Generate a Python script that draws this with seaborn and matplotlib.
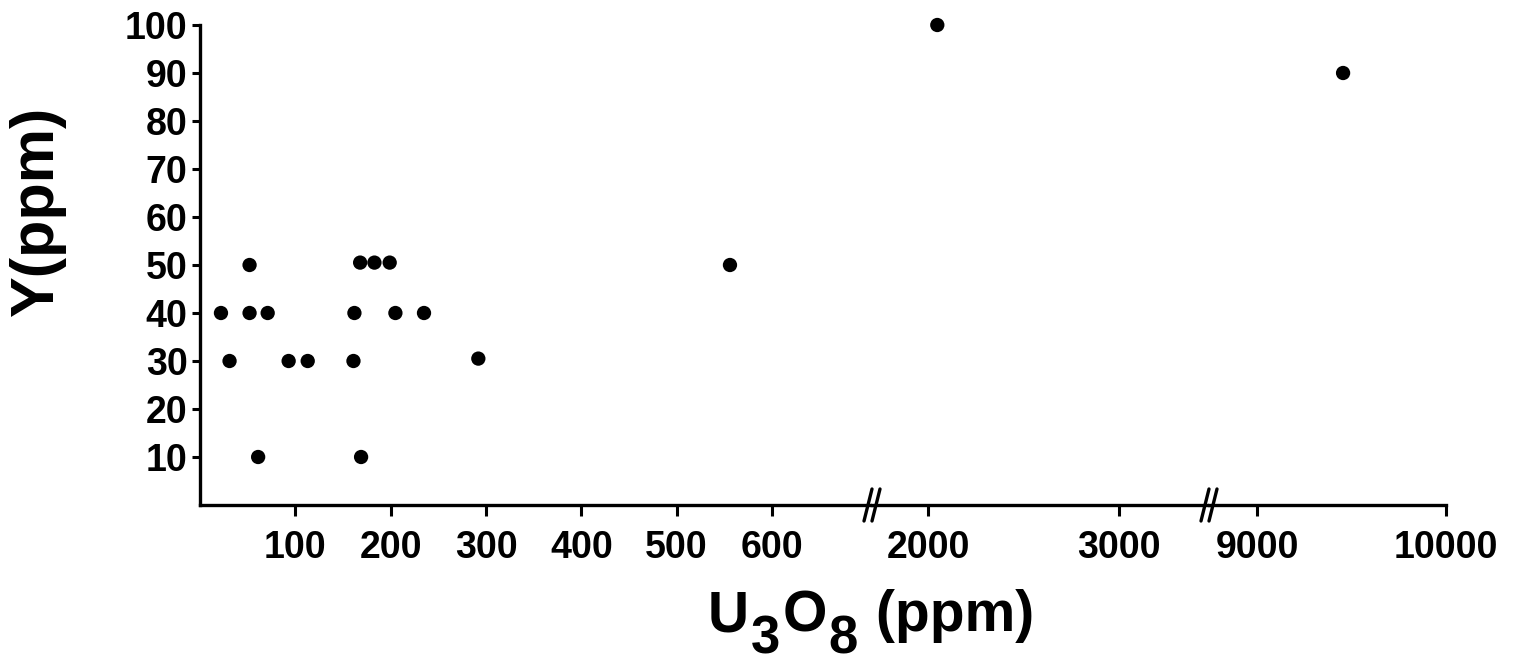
import numpy as np
import pandas as pd
import matplotlib
matplotlib.use("Agg")
import matplotlib.pyplot as plt
from matplotlib.lines import Line2D
import seaborn as sns

# values
u3o8 = [22, 31, 52, 52, 61, 71, 93, 113, 161, 162, 168, 169, 183, 199, 205, 235, 292, 556, 2047, 9455]
y_ppm = [40, 30, 50, 40, 10, 40, 30, 30, 30, 40, 50.5, 10, 50.5, 50.5, 40, 40, 30.5, 50, 100, 90]

y_ticks = [10, 20, 30, 40, 50, 60, 70, 80, 90, 100]
seg_ticks = [[100, 200, 300, 400, 500, 600], [2000, 3000], [9000, 10000]]
seg_limits = [(0, 705), (1705, 3470), (8745, 10000)]

df = pd.DataFrame({"u3o8": u3o8, "y": y_ppm})

sns.set_style("ticks")
plt.rcParams["font.family"] = ["Liberation Sans", "DejaVu Sans"]
for key in ["text.color", "axes.labelcolor", "xtick.color", "ytick.color", "axes.edgecolor"]:
    plt.rcParams[key] = "black"

W, H = 1533, 667
fig = plt.figure(figsize=(W / 100, H / 100), dpi=100)
gs = fig.add_gridspec(1, 3, width_ratios=[672, 337, 237], wspace=0,
                      left=200 / W, right=1446 / W,
                      bottom=(H - 505) / H, top=(H - 25) / H)

axes = []
for i in range(3):
    ax = fig.add_subplot(gs[0, i])
    lo, hi = seg_limits[i]
    part = df[(df.u3o8 >= lo) & (df.u3o8 <= hi)]
    sns.scatterplot(data=part, x="u3o8", y="y", ax=ax, color="black",
                    s=106, edgecolor="none", legend=False, clip_on=False)
    ax.set_xlim(lo, hi)
    ax.set_ylim(0, 100)
    ax.set_xticks(seg_ticks[i])
    ax.set_xticklabels([str(t) for t in seg_ticks[i]], fontsize=27, fontweight="bold")
    ax.set_xlabel("")
    ax.set_ylabel("")
    for side in ["top", "right"]:
        ax.spines[side].set_visible(False)
    ax.spines["bottom"].set_linewidth(2.4)
    ax.tick_params(axis="x", length=8, width=2.2, pad=10)
    if i == 0:
        ax.set_yticks(y_ticks)
        ax.set_yticklabels([str(t) for t in y_ticks], fontsize=27, fontweight="bold")
        ax.spines["left"].set_linewidth(2.4)
        ax.tick_params(axis="y", length=6, width=2.2, pad=3)
    else:
        ax.spines["left"].set_visible(False)
        ax.tick_params(axis="y", left=False, labelleft=False)
    axes.append(ax)

# y label
fig.text(66 / W, (H - 211) / H, "Y(ppm)", rotation=90, fontsize=44,
         fontweight="bold", ha="right", va="center")

# x label with lowered subscripts, laid out piece by piece
pieces = [("U", 0, 41), ("3", 22, 38), ("O", 0, 41), ("8", 22, 38), (" (ppm)", 0, 41)]
fig.canvas.draw()
renderer = fig.canvas.get_renderer()
x_px = 708
for txt, drop, size in pieces:
    t = fig.text(x_px / W, (H - 631 - drop) / H, txt, fontsize=size,
                 fontweight="bold", ha="left", va="baseline")
    x_px += t.get_window_extent(renderer).width + 2

# break marks "//" on the x axis
y0 = axes[0].get_position().y0
for ax in axes[:2]:
    xj = ax.get_position().x1
    for off in (-4, 4):
        fig.add_artist(Line2D([xj + (off - 4) / W, xj + (off + 4) / W],
                              [y0 - 16 / H, y0 + 16 / H],
                              color="black", lw=2.4, transform=fig.transFigure))

fig.savefig("out.png", dpi=100)
